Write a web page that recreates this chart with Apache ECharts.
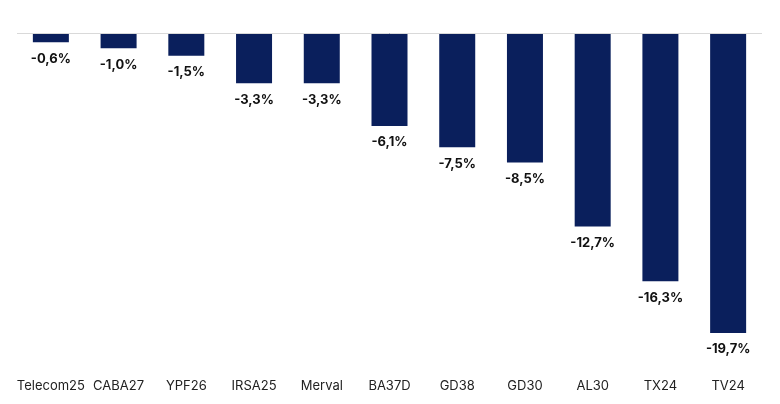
<!DOCTYPE html>
<html>
<head>
<meta charset="utf-8">
<script src="https://cdn.jsdelivr.net/npm/echarts@6/dist/echarts.min.js"></script>
<style>
  html, body { margin: 0; padding: 0; background: #fff; }
  #chart { width: 780px; height: 404px; }
</style>
</head>
<body>
<div id="chart"></div>
<script>
// datos
let categories = ['Telecom25', 'CABA27', 'YPF26', 'IRSA25', 'Merval', 'BA37D', 'GD38', 'GD30', 'AL30', 'TX24', 'TV24']
let values = [-0.6, -1.0, -1.5, -3.3, -3.3, -6.1, -7.5, -8.5, -12.7, -16.3, -19.7]

let myChart = echarts.init(document.getElementById('chart'))
myChart.setOption({
    animation: false,
    textStyle: { fontFamily: 'Inter' },
    grid: { left: 17, right: 18, top: 33, bottom: 36 },
    xAxis: {
        type: 'category',
        data: categories,
        position: 'bottom',
        axisLine: { show: false, onZero: false },
        axisTick: { show: false },
        axisLabel: { color: '#222', fontSize: 13, margin: 12, interval: 0 }
    },
    yAxis: {
        type: 'value',
        min: -22,
        max: 0,
        show: false,
        splitLine: { show: false }
    },
    series: [{
        type: 'bar',
        data: values,
        barWidth: 36,
        itemStyle: { color: '#0a1f5c' },
        label: {
            show: true,
            position: 'bottom',
            distance: 10,
            color: '#111',
            fontSize: 13,
            fontWeight: 'bold',
            formatter: p => p.value.toFixed(1).replace('.', ',') + '%'
        },
        markLine: {
            silent: true,
            symbol: 'none',
            label: { show: false },
            lineStyle: { color: '#d9d9d9', type: 'solid', width: 1 },
            data: [{ yAxis: 0 }]
        }
    }]
})
</script>
</body>
</html>
